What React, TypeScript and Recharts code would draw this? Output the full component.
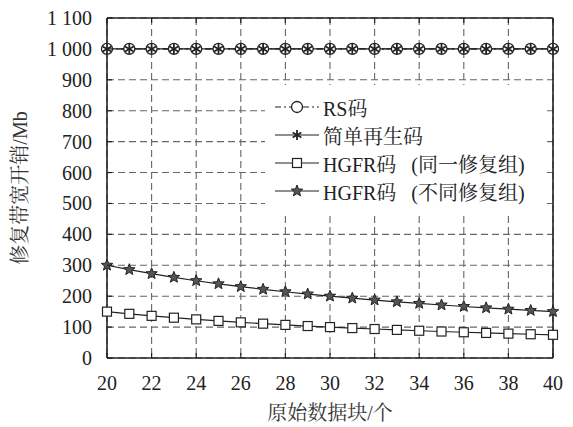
import React from "react";
import {
    CartesianGrid,
    Legend,
    Line,
    LineChart,
    XAxis,
    YAxis,
} from "recharts";

// number of original data blocks
const blocks = [20, 21, 22, 23, 24, 25, 26, 27, 28, 29, 30, 31, 32, 33, 34, 35, 36, 37, 38, 39, 40];
// repair bandwidth (Mb)
const rsCost = [1000, 1000, 1000, 1000, 1000, 1000, 1000, 1000, 1000, 1000, 1000, 1000, 1000, 1000, 1000, 1000, 1000, 1000, 1000, 1000, 1000];
const simpleCost = [1000, 1000, 1000, 1000, 1000, 1000, 1000, 1000, 1000, 1000, 1000, 1000, 1000, 1000, 1000, 1000, 1000, 1000, 1000, 1000, 1000];
const hgfrSame = [150, 142.9, 136.4, 130.4, 125, 120, 115.4, 111.1, 107.1, 103.4, 100, 96.8, 93.8, 90.9, 88.2, 85.7, 83.3, 81.1, 78.9, 76.9, 75];
const hgfrDiff = [300, 285.7, 272.7, 260.9, 250, 240, 230.8, 222.2, 214.3, 206.9, 200, 193.5, 187.5, 181.8, 176.5, 171.4, 166.7, 162.2, 157.9, 153.8, 150];

const xTicks = [20, 22, 24, 26, 28, 30, 32, 34, 36, 38, 40];
const yTicks = [0, 100, 200, 300, 400, 500, 600, 700, 800, 900, 1000, 1100];

const seriesNames = ["RS码", "简单再生码", "HGFR码\u2002 (同一修复组)", "HGFR码\u2002 (不同修复组)"];

const data = blocks.map((b, i) => ({
    blocks: b,
    rs: rsCost[i],
    simple: simpleCost[i],
    same: hgfrSame[i],
    diff: hgfrDiff[i],
}));

const INK = "#222";
const FONT = '"Liberation Serif", "Noto Serif CJK SC", serif';

const fmtY = (v: number) => (v >= 1000 ? `${Math.floor(v / 1000)} ${String(v % 1000).padStart(3, "0")}` : String(v));

const Circle = ({ cx, cy }: any) => <circle cx={cx} cy={cy} r={5.5} fill="#fff" stroke={INK} strokeWidth={1.3} />;

const Asterisk = ({ cx, cy }: any) => {
    const r = 5;
    const arms = [0, 60, 120].map((a) => {
        const t = (a * Math.PI) / 180;
        return <line key={a} x1={cx - r * Math.sin(t)} y1={cy - r * Math.cos(t)} x2={cx + r * Math.sin(t)} y2={cy + r * Math.cos(t)} stroke={INK} strokeWidth={1.8} />;
    });
    return <g>{arms}</g>;
};

const Square = ({ cx, cy }: any) => <rect x={cx - 4.5} y={cy - 4.5} width={9} height={9} fill="#fff" stroke={INK} strokeWidth={1.2} />;

const Star = ({ cx, cy }: any) => {
    const pts: string[] = [];
    for (let k = 0; k < 10; k++) {
        const rad = k % 2 === 0 ? 6 : 2.6;
        const t = (k * Math.PI) / 5;
        pts.push(`${cx + rad * Math.sin(t)},${cy - rad * Math.cos(t)}`);
    }
    return <polygon points={pts.join(" ")} fill="#555" stroke={INK} strokeWidth={1} />;
};

const markers = [Circle, Asterisk, Square, Star];
const dashes = ["6 3 2 3", undefined, undefined, undefined];

const LeftTick = ({ x, y, payload }: any) => (
    <g>
        <line x1={x + 15} x2={x + 20} y1={y} y2={y} stroke={INK} strokeWidth={1.2} />
        <text x={x} y={y} dy="0.35em" textAnchor="end" fontFamily={FONT} fontSize={20} fill={INK}>
            {fmtY(payload.value)}
        </text>
    </g>
);

const BottomTick = ({ x, y, payload }: any) => (
    <g>
        <line x1={x} x2={x} y1={y - 18} y2={y - 23} stroke={INK} strokeWidth={1.2} />
        <text x={x} y={y} dy="0.71em" textAnchor="middle" fontFamily={FONT} fontSize={20} fill={INK}>
            {payload.value}
        </text>
    </g>
);

const TopTick = ({ x, y }: any) => <line x1={x} x2={x} y1={y} y2={y + 5} stroke={INK} strokeWidth={1.2} />;
const RightTick = ({ x, y }: any) => <line x1={x} x2={x - 5} y1={y} y2={y} stroke={INK} strokeWidth={1.2} />;

const LegendBox = () => (
    <div style={{ paddingTop: 8, paddingLeft: 10, fontFamily: FONT, fontSize: 20, color: INK }}>
        {seriesNames.map((name, i) => {
            const M = markers[i];
            return (
                <div key={name} style={{ display: "flex", alignItems: "center", height: 28 }}>
                    <svg width={44} height={16} style={{ marginRight: 4 }}>
                        <line x1={0} x2={44} y1={8} y2={8} stroke={INK} strokeWidth={1.2} strokeDasharray={dashes[i]} />
                        <M cx={22} cy={8} />
                    </svg>
                    <span style={{ whiteSpace: "pre" }}>{name}</span>
                </div>
            );
        })}
    </div>
);

const YLabel = ({ viewBox }: any) => {
    const cy = viewBox.y + viewBox.height / 2;
    return (
        <text x={20} y={cy} transform={`rotate(-90 20 ${cy})`} textAnchor="middle" dominantBaseline="central" fontFamily={FONT} fontSize={20} fill="#333">
            修复带宽开销/Mb
        </text>
    );
};

export default function App() {
    const keys = ["rs", "simple", "same", "diff"];
    return (
        <div>
            <style>{`body{margin:0;background:#fff}`}</style>
            <LineChart width={573} height={427} data={data} margin={{ top: 0, right: 0, bottom: 0, left: 0 }}>
                <CartesianGrid stroke="#666" strokeDasharray="7 4" strokeWidth={1.1} />
                <XAxis
                    dataKey="blocks"
                    type="number"
                    domain={[20, 40]}
                    ticks={xTicks}
                    height={69}
                    tickSize={0}
                    tickMargin={18}
                    tick={<BottomTick />}
                    axisLine={{ stroke: INK, strokeWidth: 1.6 }}
                    tickLine={false}
                    label={{ value: "原始数据块/个", position: "insideBottom", offset: 7, fontFamily: FONT, fontSize: 20, fill: "#333" }}
                />
                <XAxis
                    xAxisId="top"
                    orientation="top"
                    dataKey="blocks"
                    type="number"
                    domain={[20, 40]}
                    ticks={xTicks}
                    height={18}
                    tickSize={0}
                    tickMargin={0}
                    tick={<TopTick />}
                    axisLine={{ stroke: INK, strokeWidth: 1.6 }}
                    tickLine={false}
                />
                <YAxis
                    type="number"
                    domain={[0, 1100]}
                    ticks={yTicks}
                    width={107}
                    tickSize={0}
                    tickMargin={15}
                    tick={<LeftTick />}
                    axisLine={{ stroke: INK, strokeWidth: 1.6 }}
                    tickLine={false}
                    label={<YLabel />}
                />
                <YAxis
                    yAxisId="right"
                    orientation="right"
                    type="number"
                    domain={[0, 1100]}
                    ticks={yTicks}
                    width={20}
                    tickSize={0}
                    tickMargin={0}
                    tick={<RightTick />}
                    axisLine={{ stroke: INK, strokeWidth: 1.6 }}
                    tickLine={false}
                />
                <Legend
                    layout="vertical"
                    align="center"
                    verticalAlign="middle"
                    content={<LegendBox />}
                    wrapperStyle={{ left: 265, top: 85, width: 282, height: 128, background: "#fff" }}
                />
                {keys.map((k, i) => {
                    const M = markers[i];
                    return (
                        <Line
                            key={k}
                            dataKey={k}
                            name={seriesNames[i]}
                            type="linear"
                            stroke={INK}
                            strokeWidth={1.2}
                            strokeDasharray={dashes[i]}
                            dot={(p: any) => <M key={`${k}-${p.index}`} cx={p.cx} cy={p.cy} />}
                            activeDot={false}
                            isAnimationActive={false}
                        />
                    );
                })}
            </LineChart>
        </div>
    );
}
